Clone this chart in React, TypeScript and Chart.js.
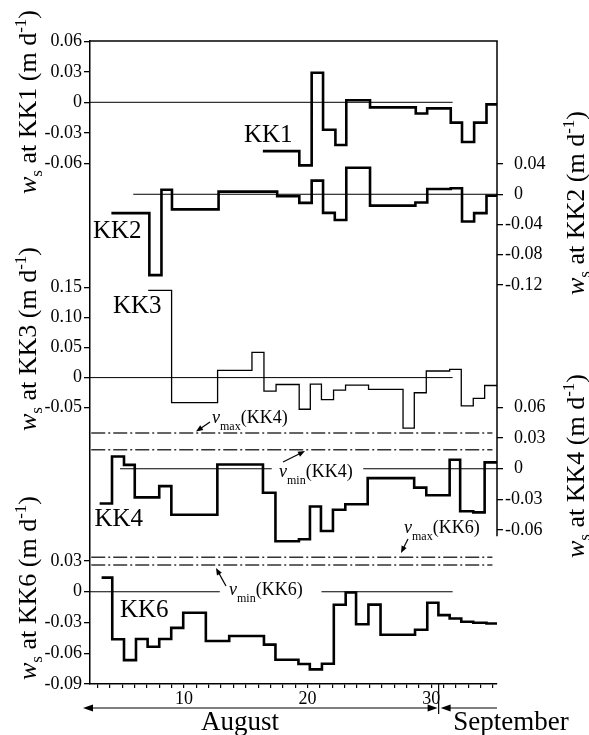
import React, { useEffect, useRef } from 'react';
import { Chart, registerables } from 'chart.js';

Chart.register(...registerables);

const FONT = "'Liberation Serif', 'Times New Roman', Times, serif";

// ---------------- data ----------------
const dayTicks = [3, 4, 5, 6, 7, 8, 9, 10, 11, 12, 13, 14, 15, 16, 17, 18, 19, 20, 21, 22, 23, 24, 25, 26, 27, 28, 29, 30, 31, 32, 33, 34, 35];
const labelledDays = [10, 20, 30];
const dayMin = 2.4;
const dayMax = 35.32;
const monthBoundaryDay = 30.6;
const monthNames = ['August', 'September'];

// step boundaries (day) and the value held between consecutive boundaries
const kk1Days = [16.38, 19.33, 20.33, 21.25, 22.25, 23.13, 25.05, 28.75, 29.67, 31.58, 32.49, 33.47, 34.47, 35.32];
const kk1Values = [-0.048, -0.062, 0.029, -0.027, -0.042, 0.002, -0.005, -0.011, -0.006, -0.02, -0.039, -0.02, -0.002];

const kk2Days = [4.13, 7.2, 8.18, 9.03, 12.8, 17.54, 19.33, 20.33, 21.25, 22.2, 23.13, 25.05, 28.72, 29.68, 31.58, 32.49, 33.47, 34.47, 35.32];
const kk2Values = [-0.025, -0.107, 0.006, -0.02, 0.0035, -0.0026, -0.0114, 0.018, -0.0246, -0.034, 0.035, -0.015, -0.011, 0.007, 0.008, -0.036, -0.025, -0.002];

const kk3Days = [7.11, 9.0, 12.72, 15.5, 16.47, 17.45, 19.32, 20.22, 21.12, 22.1, 23.07, 24.93, 27.72, 28.63, 29.6, 31.49, 32.43, 33.4, 34.32, 35.32];
const kk3Values = [0.145, -0.0416, 0.012, 0.042, -0.0225, -0.0115, -0.0526, -0.011, -0.0365, -0.0207, -0.0125, -0.0196, -0.0838, -0.0252, 0.011, 0.0137, -0.047, -0.0345, -0.0131];

const kk4Days = [3.18, 4.18, 5.15, 6.02, 8.0, 8.98, 12.7, 16.39, 17.4, 19.3, 20.19, 21.08, 22.05, 23.05, 24.86, 28.62, 29.6, 31.49, 32.34, 33.4, 34.32, 35.32];
const kk4Values = [-0.034, 0.012, 0.0038, -0.028, -0.017, -0.045, 0.0042, -0.0235, -0.071, -0.069, -0.037, -0.061, -0.0402, -0.0348, -0.0092, -0.0185, -0.026, 0.0088, -0.0417, -0.0427, 0.0062];

const kk6Days = [3.34, 4.2, 5.15, 6.12, 7.06, 8.0, 8.97, 9.94, 11.77, 13.66, 16.47, 17.4, 19.26, 20.18, 21.16, 22.12, 23.08, 23.92, 24.92, 25.9, 28.69, 29.68, 30.58, 31.49, 32.43, 33.4, 34.47, 35.32];
const kk6Values = [0.0138, -0.0464, -0.0667, -0.0461, -0.0537, -0.0461, -0.0352, -0.0205, -0.048, -0.0431, -0.0516, -0.0664, -0.0705, -0.0757, -0.0703, -0.0127, -0.0008, -0.0317, -0.0126, -0.042, -0.0371, -0.0108, -0.0228, -0.0261, -0.0293, -0.0303, -0.031];

// zero reference lines, [from day, to day]
const kk1Zero = [[2.4, 31.73]];
const kk2Zero = [[5.9, 35.32]];
const kk3Zero = [[2.4, 31.73]];
const kk4Zero = [[4.83, 17.1], [24.5, 35.32]];
const kk6Zero = [[2.4, 12.9], [21.12, 31.73]];

// threshold velocities
const vmaxKK4 = 0.035;
const vminKK4 = 0.0185;
const vmaxKK6 = 0.0336;
const vminKK6 = 0.0262;
const thresholdSpan = [2.5, 34.95];

// axis tick values
const kk1Ticks = [0.06, 0.03, 0, -0.03, -0.06];
const kk2Ticks = [0.04, 0, -0.04, -0.08, -0.12];
const kk3Ticks = [0.15, 0.1, 0.05, 0, -0.05];
const kk4Ticks = [0.06, 0.03, 0, -0.03, -0.06];
const kk6Ticks = [0.03, 0, -0.03, -0.06, -0.09];

// ---------------- layout ----------------
const W = 589;
const H = 735;
const PLOT_LEFT = 90;
const PLOT_RIGHT = 497;
const PLOT_TOP = 41;
const PLOT_BOTTOM = 684;

// min/max of an axis that spans the whole plot height, given two anchor ticks and their pixel rows
function axisRange(v1: number, p1: number, v2: number, p2: number) {
  const k = (v1 - v2) / (p2 - p1);
  return { max: v1 + (p1 - PLOT_TOP) * k, min: v2 - (PLOT_BOTTOM - p2) * k };
}

const kk1Range = axisRange(0.06, 41.3, -0.06, 163.3);
const kk2Range = axisRange(0.04, 164, -0.12, 285);
const kk3Range = axisRange(0.15, 287.3, -0.05, 407.7);
const kk4Range = axisRange(0.06, 407.5, -0.06, 530);
const kk6Range = axisRange(0.03, 561, -0.09, 684);

type Part = { t: string; s?: 'i' | 'sub' | 'sup' };

function drawRich(ctx: CanvasRenderingContext2D, parts: Part[], x: number, y: number, size: number, align: 'left' | 'center', subDrop: number) {
  const small = Math.round(size * 0.64);
  const fonts = parts.map((p) =>
    p.s === 'sub' || p.s === 'sup' ? `${small}px ${FONT}` : p.s === 'i' ? `italic ${size}px ${FONT}` : `${size}px ${FONT}`
  );
  const widths = parts.map((p, i) => {
    ctx.font = fonts[i];
    return ctx.measureText(p.t).width;
  });
  const total = widths.reduce((a, b) => a + b, 0);
  let cx = align === 'center' ? x - total / 2 : x;
  ctx.textAlign = 'left';
  ctx.textBaseline = 'alphabetic';
  parts.forEach((p, i) => {
    ctx.font = fonts[i];
    const dy = p.s === 'sub' ? size * subDrop : p.s === 'sup' ? -size * 0.4 : 0;
    ctx.fillText(p.t, cx, y + dy);
    cx += widths[i];
  });
}

function seg(ctx: CanvasRenderingContext2D, x1: number, y1: number, x2: number, y2: number) {
  ctx.beginPath();
  ctx.moveTo(x1, y1);
  ctx.lineTo(x2, y2);
  ctx.stroke();
}

function head(ctx: CanvasRenderingContext2D, fx: number, fy: number, tx: number, ty: number, len: number, half: number) {
  const ang = Math.atan2(ty - fy, tx - fx);
  ctx.beginPath();
  ctx.moveTo(tx, ty);
  ctx.lineTo(tx - len * Math.cos(ang) + half * Math.sin(ang), ty - len * Math.sin(ang) - half * Math.cos(ang));
  ctx.lineTo(tx - len * Math.cos(ang) - half * Math.sin(ang), ty - len * Math.sin(ang) + half * Math.cos(ang));
  ctx.closePath();
  ctx.fill();
}

function arrow(ctx: CanvasRenderingContext2D, fx: number, fy: number, tx: number, ty: number) {
  const ang = Math.atan2(ty - fy, tx - fx);
  seg(ctx, fx, fy, tx - 5 * Math.cos(ang), ty - 5 * Math.sin(ang));
  head(ctx, fx, fy, tx, ty, 7, 2.8);
}

const seriesLabels = [
  { t: 'KK1', x: 244, y: 142 },
  { t: 'KK2', x: 93, y: 238 },
  { t: 'KK3', x: 113, y: 313 },
  { t: 'KK4', x: 94.5, y: 526 },
  { t: 'KK6', x: 120, y: 617 },
];

const axisTitles = [
  { name: 'KK1', x: 36, y: 102 },
  { name: 'KK3', x: 36, y: 339 },
  { name: 'KK6', x: 36, y: 588 },
  { name: 'KK2', x: 584, y: 203 },
  { name: 'KK4', x: 584, y: 466 },
];

const annotations = [
  { kind: 'max', name: 'KK4', x: 212, y: 423, arrow: [210, 422, 196, 431.5] },
  { kind: 'min', name: 'KK4', x: 279, y: 477, arrow: [283, 462, 305, 451] },
  { kind: 'max', name: 'KK6', x: 404, y: 533, arrow: [408, 539, 401, 553] },
  { kind: 'min', name: 'KK6', x: 229, y: 595, arrow: [226, 586, 216, 568] },
];

const overlay = {
  id: 'overlay',
  // give the zero-width axis boxes their real room back, so their labels are not clipped
  afterLayout(chart: any) {
    const a = chart.chartArea;
    for (const id of Object.keys(chart.scales)) {
      const s = chart.scales[id];
      if (s.options.position === 'left') {
        s.left = 0;
        s.right = a.left;
        s.width = a.left;
      } else if (s.options.position === 'right') {
        s.left = a.right;
        s.right = chart.width;
        s.width = chart.width - a.right;
      } else if (s.options.position === 'bottom') {
        s.top = a.bottom;
        s.bottom = chart.height;
        s.height = chart.height - a.bottom;
      }
    }
  },
  afterDraw(chart: any) {
    const { ctx, chartArea: a, scales } = chart;
    const xs = scales.x;
    ctx.save();
    ctx.strokeStyle = '#000';
    ctx.fillStyle = '#000';
    ctx.lineWidth = 1.5;
    // frame: top and right axis
    seg(ctx, a.left, a.top, a.right + 0.75, a.top);
    seg(ctx, a.right, a.top, a.right, scales.kk4.getPixelForValue(-0.066));

    // series labels
    ctx.font = `25px ${FONT}`;
    ctx.textAlign = 'left';
    ctx.textBaseline = 'alphabetic';
    for (const l of seriesLabels) ctx.fillText(l.t, l.x, l.y);

    // axis titles
    for (const t of axisTitles) {
      ctx.save();
      ctx.translate(t.x, t.y);
      ctx.rotate(-Math.PI / 2);
      drawRich(ctx, [{ t: 'w', s: 'i' }, { t: 's', s: 'sub' }, { t: ` at ${t.name} (m d` }, { t: '-1', s: 'sup' }, { t: ')' }], 0, 0, 26, 'center', 0.22);
      ctx.restore();
    }

    // threshold annotations
    ctx.lineWidth = 1.2;
    for (const an of annotations) {
      drawRich(ctx, [{ t: 'v', s: 'i' }, { t: an.kind, s: 'sub' }, { t: `(${an.name})` }], an.x, an.y, 18, 'left', 0.38);
      const [fx, fy, tx, ty] = an.arrow;
      arrow(ctx, fx, fy, tx, ty);
    }

    // month bar
    const sepX = xs.getPixelForValue(monthBoundaryDay);
    const ay = a.bottom + 24;
    ctx.lineWidth = 1.2;
    seg(ctx, sepX, a.bottom, sepX, a.bottom + 30);
    const augL = a.left - 7;
    seg(ctx, augL + 5, ay, sepX - 6, ay);
    head(ctx, augL + 10, ay, augL, ay, 10, 3.5);
    head(ctx, sepX - 10, ay, sepX - 1, ay, 10, 3.5);
    seg(ctx, sepX + 6, ay, a.right, ay);
    head(ctx, sepX + 12, ay, sepX + 2, ay, 10, 3.5);
    ctx.font = `27px ${FONT}`;
    ctx.textAlign = 'center';
    ctx.textBaseline = 'alphabetic';
    ctx.fillText(monthNames[0], 240, 730);
    ctx.fillText(monthNames[1], 511, 730);
    ctx.restore();
  },
};

function steps(days: number[], values: number[]) {
  const pts = values.map((v, i) => ({ x: days[i], y: v }));
  pts.push({ x: days[days.length - 1], y: values[values.length - 1] });
  return pts;
}

function stepSet(days: number[], values: number[], axis: string, width: number) {
  return {
    data: steps(days, values),
    yAxisID: axis,
    borderColor: '#000',
    borderWidth: width,
    stepped: 'before',
    pointRadius: 0,
    fill: false,
    tension: 0,
    borderJoinStyle: 'miter',
    borderCapStyle: 'butt',
  };
}

function flatSets(spans: number[][], value: number, axis: string, width: number, dash: number[], color: string) {
  return spans.map((s) => ({
    data: [
      { x: s[0], y: value },
      { x: s[1], y: value },
    ],
    yAxisID: axis,
    borderColor: color,
    borderWidth: width,
    borderDash: dash,
    pointRadius: 0,
    fill: false,
  }));
}

function fmt(v: number, right: boolean) {
  const s = v === 0 ? '0' : v.toFixed(2);
  return right && v >= 0 ? '  ' + s : s;
}

function yAxis(position: 'left' | 'right', ticks: number[], range: { min: number; max: number }, border: boolean) {
  return {
    type: 'linear',
    position,
    min: range.min,
    max: range.max,
    afterBuildTicks: (s: any) => {
      s.ticks = ticks.map((v) => ({ value: v }));
    },
    afterFit: (s: any) => {
      s.width = 0;
    },
    border: { display: border, color: '#000', width: 1.5 },
    grid: { display: true, drawOnChartArea: false, drawTicks: true, tickLength: 6, color: '#000', lineWidth: 1.3 },
    ticks: {
      autoSkip: false,
      padding: position === 'left' ? 2 : 2,
      color: '#000',
      font: { family: FONT, size: 18 },
      callback: (v: any) => fmt(Number(v), position === 'right'),
    },
  };
}

export default function App() {
  const ref = useRef<HTMLCanvasElement | null>(null);
  useEffect(() => {
    if (!ref.current) return;
    Chart.defaults.color = '#000';
    Chart.defaults.font.family = FONT;
    const datasets: any[] = [
      stepSet(kk1Days, kk1Values, 'kk1', 2.6),
      stepSet(kk2Days, kk2Values, 'kk2', 2.6),
      stepSet(kk3Days, kk3Values, 'kk3', 1.3),
      stepSet(kk4Days, kk4Values, 'kk4', 2.6),
      stepSet(kk6Days, kk6Values, 'kk6', 2.6),
      ...flatSets(kk1Zero, 0, 'kk1', 1, [], '#000'),
      ...flatSets(kk2Zero, 0, 'kk2', 1, [], '#000'),
      ...flatSets(kk3Zero, 0, 'kk3', 1, [], '#000'),
      ...flatSets(kk4Zero, 0, 'kk4', 1, [], '#000'),
      ...flatSets(kk6Zero, 0, 'kk6', 1, [], '#000'),
      ...flatSets([thresholdSpan], vmaxKK4, 'kk4', 1.5, [14, 3, 2, 3], '#333'),
      ...flatSets([thresholdSpan], vminKK4, 'kk4', 1.5, [14, 3, 2, 3], '#333'),
      ...flatSets([thresholdSpan], vmaxKK6, 'kk6', 1.5, [14, 3, 2, 3], '#333'),
      ...flatSets([thresholdSpan], vminKK6, 'kk6', 1.5, [14, 3, 2, 3], '#333'),
    ];
    const chart = new Chart(ref.current, {
      type: 'line',
      data: { datasets },
      options: {
        animation: false,
        responsive: false,
        devicePixelRatio: 1,
        layout: { padding: { left: PLOT_LEFT, right: W - PLOT_RIGHT, top: PLOT_TOP, bottom: H - PLOT_BOTTOM } },
        plugins: { legend: { display: false }, tooltip: { enabled: false } },
        scales: {
          x: {
            type: 'linear',
            position: 'bottom',
            min: dayMin,
            max: dayMax,
            afterBuildTicks: (s: any) => {
              s.ticks = dayTicks.map((v) => ({ value: v }));
            },
            afterFit: (s: any) => {
              s.height = 0;
            },
            border: { display: true, color: '#000', width: 1.5 },
            grid: { display: true, drawOnChartArea: false, drawTicks: true, tickLength: 4, color: '#000', lineWidth: 1.2 },
            ticks: {
              autoSkip: false,
              maxRotation: 0,
              minRotation: 0,
              padding: 0,
              color: '#000',
              font: { family: FONT, size: 18 },
              callback: (v: any) => (labelledDays.includes(Number(v)) ? String(v) : ''),
            },
          },
          kk1: yAxis('left', kk1Ticks, kk1Range, true),
          kk3: yAxis('left', kk3Ticks, kk3Range, false),
          kk6: yAxis('left', kk6Ticks, kk6Range, false),
          kk2: yAxis('right', kk2Ticks, kk2Range, false),
          kk4: yAxis('right', kk4Ticks, kk4Range, false),
        } as any,
      },
      plugins: [overlay],
    } as any);
    return () => chart.destroy();
  }, []);
  return (
    <div style={{ position: 'absolute', left: 0, top: 0, width: W, height: H, background: '#fff' }}>
      <canvas ref={ref} width={W} height={H} style={{ display: 'block', width: W, height: H }} />
    </div>
  );
}
